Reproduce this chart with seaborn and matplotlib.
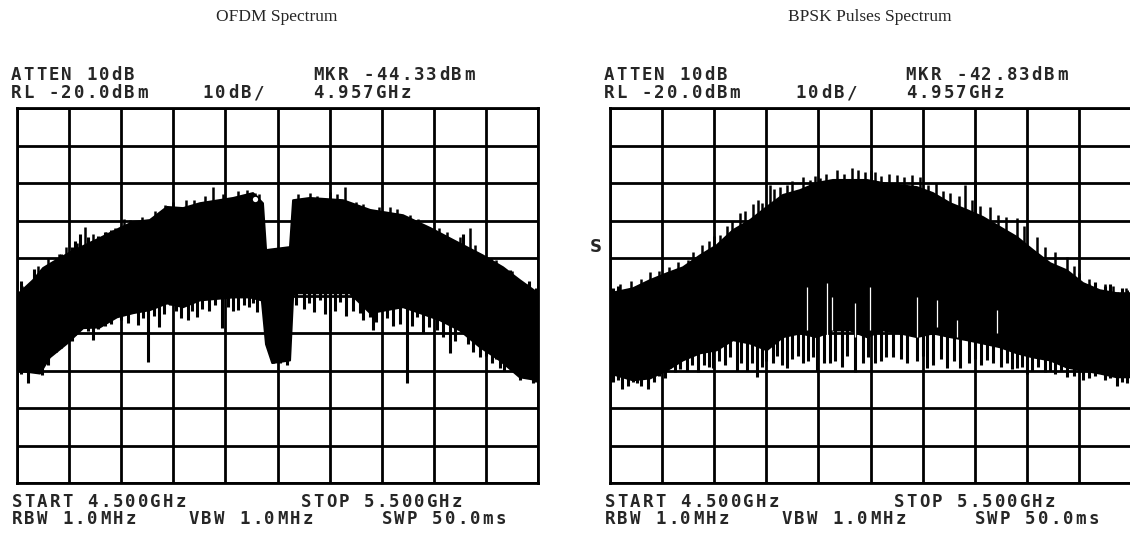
import numpy as np
import pandas as pd
import matplotlib
matplotlib.use("Agg")
import matplotlib.pyplot as plt
import seaborn as sns

# ---- OFDM spectrum (GHz, dBm) ----
ofdm_top_f = [4.500, 4.531, 4.550, 4.569, 4.602, 4.659, 4.698, 4.723, 4.755, 4.788,
              4.819, 4.851, 4.915, 4.953, 4.972, 4.978, 5.024, 5.030, 5.062, 5.126,
              5.178, 5.241, 5.293, 5.337, 5.394, 5.433, 5.465, 5.500]
ofdm_top = [-69.9, -65.9, -62.7, -61.1, -58.5, -54.7, -52.0, -50.4, -49.9, -46.4,
            -46.7, -45.4, -44.0, -42.7, -45.4, -57.9, -57.1, -44.6, -44.0, -44.6,
            -47.2, -48.6, -52.0, -55.2, -59.3, -62.5, -65.9, -69.4]
ofdm_bot_f = [4.500, 4.544, 4.563, 4.596, 4.627, 4.659, 4.692, 4.723, 4.755, 4.788,
              4.819, 4.851, 4.915, 4.947, 4.970, 4.978, 4.990, 5.024, 5.030, 5.034,
              5.062, 5.139, 5.178, 5.241, 5.274, 5.312, 5.350, 5.389, 5.427, 5.465, 5.500]
ofdm_bot = [-90.0, -90.8, -86.5, -82.8, -78.7, -78.5, -75.8, -74.7, -73.9, -72.1,
            -73.1, -71.3, -70.5, -70.5, -71.3, -83.0, -88.0, -87.3, -70.0, -69.4,
            -69.4, -69.4, -74.7, -73.1, -74.7, -76.6, -79.3, -83.8, -87.3, -91.8, -92.6]
ofdm_dip_f = [4.508, 4.521, 4.533, 4.548, 4.560, 4.575, 4.585, 4.605, 4.612, 4.621,
              4.636, 4.646, 4.655, 4.668, 4.680, 4.700, 4.713, 4.732, 4.742, 4.751,
              4.762, 4.773, 4.783, 4.794, 4.805, 4.815, 4.828, 4.836, 4.845, 4.856,
              4.868, 4.880, 4.893, 4.905, 4.915, 4.924, 4.935, 4.946, 4.953, 4.961,
              4.980, 4.991, 5.005, 5.018, 5.036, 5.043, 5.050, 5.060, 5.070, 5.082,
              5.092, 5.101, 5.110, 5.120, 5.131, 5.145, 5.158, 5.165, 5.178, 5.183,
              5.190, 5.197, 5.210, 5.222, 5.235, 5.249, 5.258, 5.268, 5.280, 5.290,
              5.306, 5.318, 5.331, 5.340, 5.356, 5.365, 5.375, 5.389, 5.400, 5.412,
              5.420, 5.427, 5.435, 5.446, 5.455, 5.465, 5.475, 5.483, 5.490, 5.497]
ofdm_dip = [-91.0, -93.4, -88.0, -91.3, -88.5, -85.0, -84.0, -82.0, -80.5, -78.5,
            -79.5, -81.9, -79.0, -78.0, -77.5, -76.5, -77.4, -77.9, -76.0, -87.8,
            -75.5, -78.5, -75.0, -72.6, -74.0, -76.0, -76.6, -74.0, -75.8, -73.5,
            -74.0, -72.5, -78.7, -73.0, -74.0, -73.9, -72.5, -73.0, -72.0, -74.5,
            -82.8, -88.1, -88.0, -88.5, -72.5, -69.4, -73.5, -72.0, -74.5, -71.3,
            -75.0, -79.3, -74.0, -71.8, -75.5, -74.0, -74.7, -76.5, -75.8, -79.3,
            -77.0, -73.1, -76.0, -78.0, -77.5, -93.2, -78.0, -75.8, -80.0, -78.5,
            -79.3, -81.0, -85.4, -82.0, -78.5, -83.0, -85.0, -86.5, -86.0, -88.0,
            -87.0, -89.2, -90.0, -88.1, -90.5, -92.6, -92.0, -91.0, -93.4, -93.0]
ofdm_peak_f = [4.510, 4.540, 4.560, 4.580, 4.595, 4.615, 4.631, 4.645, 4.670, 4.688,
               4.705, 4.717, 4.740, 4.765, 4.784, 4.800, 4.825, 4.840, 4.860, 4.876,
               4.895, 4.925, 4.941, 4.957, 4.965, 5.040, 5.062, 5.075, 5.100, 5.115,
               5.130, 5.150, 5.165, 5.195, 5.215, 5.230, 5.255, 5.270, 5.310, 5.325,
               5.350, 5.370, 5.380, 5.410, 5.420, 5.450, 5.480]
ofdm_peak = [-67.5, -62.0, -60.0, -59.0, -57.0, -56.0, -51.8, -53.5, -53.0, -52.0,
             -49.5, -49.9, -49.0, -47.5, -45.9, -45.0, -44.5, -44.5, -43.5, -41.1,
             -43.0, -42.0, -41.9, -42.7, -43.0, -43.0, -42.7, -43.5, -42.5, -43.0,
             -41.1, -45.0, -45.5, -46.5, -46.5, -47.0, -48.5, -49.5, -52.0, -53.0,
             -54.5, -52.0, -56.5, -60.0, -60.5, -63.5, -67.0]

# ---- BPSK pulses spectrum ----
bpsk_top_f = [4.500, 4.544, 4.577, 4.609, 4.640, 4.673, 4.705, 4.736, 4.769, 4.801,
              4.832, 4.865, 4.897, 4.928, 4.961, 4.993, 5.024, 5.057, 5.089, 5.120,
              5.153, 5.185, 5.216, 5.249, 5.281, 5.312, 5.345, 5.377, 5.408, 5.440,
              5.473, 5.500]
bpsk_top = [-69.4, -68.1, -65.9, -64.1, -62.5, -59.3, -56.6, -52.6, -49.9, -46.4,
            -43.2, -41.9, -40.0, -39.2, -39.2, -39.2, -40.0, -40.6, -41.1, -42.7,
            -45.4, -47.2, -49.1, -51.8, -54.4, -57.9, -61.4, -63.3, -66.7, -68.6,
            -69.4, -69.4]
bpsk_bot = [-90.8, -92.6, -92.1, -90.0, -87.3, -85.4, -84.6, -81.9, -82.8, -84.6,
            -81.1, -80.1, -81.1, -79.3, -79.3, -81.1, -79.3, -80.1, -81.1, -80.1,
            -81.1, -81.9, -82.8, -83.8, -85.4, -86.5, -87.3, -89.2, -90.0, -90.8,
            -91.8, -91.8]
bpsk_dip_f = [4.505, 4.515, 4.523, 4.535, 4.545, 4.552, 4.560, 4.573, 4.585, 4.595,
              4.605, 4.615, 4.625, 4.635, 4.648, 4.658, 4.669, 4.680, 4.690, 4.698,
              4.710, 4.720, 4.730, 4.744, 4.752, 4.762, 4.772, 4.782, 4.792, 4.800,
              4.812, 4.820, 4.830, 4.840, 4.850, 4.860, 4.870, 4.880, 4.890, 4.897,
              4.910, 4.922, 4.932, 4.945, 4.955, 4.970, 4.985, 4.995, 5.009, 5.020,
              5.030, 5.043, 5.058, 5.070, 5.090, 5.100, 5.108, 5.120, 5.135, 5.147,
              5.160, 5.172, 5.190, 5.200, 5.212, 5.224, 5.235, 5.250, 5.262, 5.272,
              5.281, 5.290, 5.300, 5.310, 5.322, 5.335, 5.345, 5.355, 5.365, 5.377,
              5.390, 5.400, 5.408, 5.420, 5.430, 5.450, 5.460, 5.473, 5.482, 5.492]
bpsk_dip = [-93.0, -92.5, -94.8, -94.0, -93.0, -93.4, -94.0, -94.8, -93.0, -91.5,
            -92.0, -89.2, -90.5, -89.5, -90.0, -88.5, -90.5, -88.5, -89.0, -89.2,
            -87.5, -88.5, -86.5, -90.0, -88.0, -90.0, -88.0, -91.8, -89.0, -87.5,
            -88.0, -86.0, -88.5, -89.2, -87.0, -86.0, -88.1, -87.5, -86.5, -90.0,
            -88.0, -88.1, -87.5, -89.0, -86.0, -90.5, -88.0, -86.5, -88.1, -87.5,
            -86.5, -86.5, -87.0, -88.0, -87.5, -86.0, -89.2, -88.5, -87.0, -89.2,
            -87.5, -89.2, -88.0, -87.0, -88.5, -87.3, -88.0, -89.0, -88.0, -89.5,
            -89.2, -89.0, -90.8, -90.0, -89.0, -90.5, -90.0, -91.0, -90.0, -91.8,
            -91.5, -90.5, -92.6, -92.0, -91.5, -92.5, -92.0, -94.0, -93.0, -93.4]
bpsk_peak_f = [4.520, 4.540, 4.560, 4.577, 4.595, 4.613, 4.630, 4.650, 4.660, 4.676,
               4.690, 4.700, 4.711, 4.725, 4.735, 4.749, 4.760, 4.775, 4.785, 4.792,
               4.807, 4.815, 4.826, 4.840, 4.850, 4.870, 4.884, 4.893, 4.903, 4.915,
               4.935, 4.950, 4.965, 4.976, 4.990, 5.000, 5.009, 5.020, 5.035, 5.051,
               5.065, 5.080, 5.095, 5.110, 5.125, 5.140, 5.153, 5.170, 5.182, 5.195,
               5.201, 5.210, 5.230, 5.245, 5.260, 5.281, 5.295, 5.320, 5.335, 5.355,
               5.377, 5.390, 5.400, 5.420, 5.450, 5.465, 5.490]
bpsk_peak = [-67.0, -66.0, -65.5, -63.8, -63.5, -62.5, -61.0, -60.5, -58.5, -56.6,
             -55.5, -54.0, -53.9, -51.5, -50.0, -48.0, -47.5, -45.5, -44.5, -45.4,
             -40.6, -41.5, -41.1, -40.5, -39.5, -38.5, -39.2, -38.0, -38.7, -37.5,
             -36.5, -37.5, -36.0, -36.6, -37.0, -36.5, -37.1, -38.0, -37.5, -37.9,
             -38.5, -37.9, -38.5, -40.5, -40.0, -42.0, -42.7, -43.5, -40.6, -44.5,
             -39.2, -46.0, -46.5, -48.5, -49.0, -49.4, -51.5, -54.5, -57.0, -58.5,
             -59.8, -62.0, -64.0, -65.5, -67.0, -67.5, -68.0]
# thin white gaps inside the BPSK trace: frequency, upper end, lower end
bpsk_gap_f = [4.878, 4.917, 4.926, 4.970, 4.999, 5.089, 5.128, 5.166, 5.243]
bpsk_gap_hi = [-67.8, -66.7, -70.5, -72.1, -67.8, -70.5, -71.3, -76.6, -73.9]
bpsk_gap_lo = [-79.3, -81.1, -79.3, -81.1, -79.3, -81.1, -78.5, -81.1, -80.1]

panels = [
    dict(title="OFDM Spectrum", top_f=ofdm_top_f, top=ofdm_top, bot_f=ofdm_bot_f, bot=ofdm_bot,
         dip_f=ofdm_dip_f, dip=ofdm_dip, peak_f=ofdm_peak_f, peak=ofdm_peak,
         gap_f=[], gap_hi=[], gap_lo=[],
         mkr="MKR -44.33dBm", mkr_db=-44.33, x0=17),
    dict(title="BPSK Pulses Spectrum", top_f=bpsk_top_f, top=bpsk_top, bot_f=bpsk_top_f, bot=bpsk_bot,
         dip_f=bpsk_dip_f, dip=bpsk_dip, peak_f=bpsk_peak_f, peak=bpsk_peak,
         gap_f=bpsk_gap_f, gap_hi=bpsk_gap_hi, gap_lo=bpsk_gap_lo,
         mkr="MKR -42.83dBm", mkr_db=None, x0=610),
]

sns.set_style("white")
W, H = 1130, 533
fig = plt.figure(figsize=(W / 100, H / 100), dpi=100)

PITCH = 12.6


def crt_text(x, y, s):
    # fixed-pitch instrument font: one glyph per cell
    for i, ch in enumerate(s):
        if ch == " ":
            continue
        fig.text((x + i * PITCH + 5) / W, 1 - y / H, ch, ha="center", va="center",
                 family="DejaVu Sans Mono", weight="bold", fontsize=12.5)


for p in panels:
    x0 = p["x0"]
    ax = fig.add_axes([x0 / W, 1 - 483 / H, 521 / W, 375 / H])
    ax.fill(np.r_[p["top_f"], p["bot_f"][::-1]], np.r_[p["top"], p["bot"][::-1]],
            color="black", lw=0, zorder=2)
    df_top = pd.DataFrame({"f": p["top_f"], "db": p["top"]})
    df_bot = pd.DataFrame({"f": p["bot_f"], "db": p["bot"]})
    sns.lineplot(data=df_top, x="f", y="db", color="black", lw=1.5, ax=ax, zorder=3)
    sns.lineplot(data=df_bot, x="f", y="db", color="black", lw=1.5, ax=ax, zorder=3)
    dip = np.array(p["dip"])
    peak = np.array(p["peak"])
    ax.vlines(p["dip_f"], dip, dip + 25, color="black", lw=2.2, zorder=3)
    ax.vlines(p["peak_f"], peak - 20, peak, color="black", lw=1.8, zorder=3)
    if p["gap_f"]:
        ax.vlines(p["gap_f"], p["gap_lo"], p["gap_hi"], color="white", lw=0.9, zorder=4)
    if p["mkr_db"] is not None:
        ax.plot([4.957], [p["mkr_db"]], marker="o", ms=5, mfc="white", mec="black",
                mew=1.2, zorder=5)

    ax.set_xlim(4.5, 5.5)
    ax.set_ylim(-120, -20)
    ax.set_xticks(np.linspace(4.5, 5.5, 11))
    ax.set_yticks(np.arange(-120, -19, 10))
    ax.tick_params(length=0, labelbottom=False, labelleft=False)
    ax.set_xlabel("")
    ax.set_ylabel("")
    ax.grid(True, color="black", lw=2.0, zorder=0)
    ax.set_axisbelow(True)
    for sp in ax.spines.values():
        sp.set_color("black")
        sp.set_linewidth(2.0)

    fig.text((x0 + 260) / W, 1 - 17 / H, p["title"], ha="center", va="center",
             family="Liberation Serif", fontsize=12.5)

    crt_text(x0 - 6, 75, "ATTEN 10dB")
    crt_text(x0 + 296, 75, p["mkr"])
    crt_text(x0 - 6, 93, "RL -20.0dBm")
    crt_text(x0 + 186, 93, "10dB/")
    crt_text(x0 + 296, 93, "4.957GHz")
    crt_text(x0 - 5, 502, "START 4.500GHz")
    crt_text(x0 + 284, 502, "STOP 5.500GHz")
    crt_text(x0 - 5, 519, "RBW 1.0MHz")
    crt_text(x0 + 172, 519, "VBW 1.0MHz")
    crt_text(x0 + 365, 519, "SWP 50.0ms")

fig.text(596 / W, 1 - 247 / H, "S", ha="center", va="center",
         family="DejaVu Sans", weight="bold", fontsize=12)

fig.savefig("out.png", dpi=100)
